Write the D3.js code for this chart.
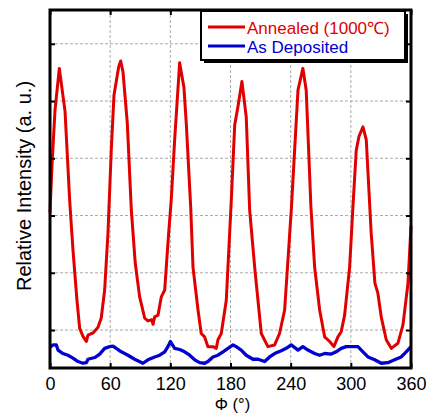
<!DOCTYPE html>
<html>
<head>
<meta charset="utf-8">
<script src="https://cdn.jsdelivr.net/npm/d3@7"></script>
<style>
  body { margin: 0; background: #fff; }
  text { font-family: "Liberation Sans", Arial, Helvetica, sans-serif; }
</style>
</head>
<body>
<script>
// phi (deg) vs relative intensity (a. u.)

var xTicks = [0, 60, 120, 180, 240, 300, 360];
var yGrid = [1, 2, 3, 4, 5, 6];

var annealed = [
  [0,3.05],[2,3.88],[5,4.84],[9.3,5.57],[15,4.82],[19.6,3.27],[22.9,2.40],[26.9,1.52],
  [29.6,1.03],[32.9,0.89],[36.2,0.80],[37.9,0.91],[42.9,0.95],[47.9,1.05],[51.1,1.21],
  [54.5,1.70],[57.8,2.69],[61.1,4.14],[63.8,5.10],[68.5,5.60],[70.5,5.70],[72.8,5.51],
  [77.1,4.61],[81.1,3.10],[85.0,2.17],[89.4,1.58],[94.4,1.21],[97.7,1.16],[101.5,1.18],
  [102.7,1.10],[104.4,1.23],[107.7,1.26],[111.0,1.58],[114.4,1.70],[118.3,2.69],[120.9,3.27],
  [124.3,4.32],[129.3,5.67],[133.6,5.23],[135.9,4.61],[140.3,3.15],[142.6,2.10],[147.6,1.35],
  [150.8,0.94],[154.2,0.88],[157.5,0.71],[162.5,0.71],[165.8,0.68],[167.5,0.83],[170.8,0.94],
  [175.8,1.52],[180.8,3.27],[184.2,4.58],[187.4,4.90],[191.4,5.34],[195.7,4.72],[199.1,3.10],
  [204.1,2.10],[210.7,0.94],[217.3,0.71],[224.0,0.74],[228.9,0.94],[234.0,1.35],[240.8,3.15],
  [247.3,5.19],[252.2,5.57],[255.5,5.19],[260.2,3.15],[263.9,2.10],[268.9,1.35],[273.9,0.88],
  [278.9,0.80],[283.1,0.71],[287.1,0.88],[290.4,0.97],[293.8,1.26],[298.8,2.10],[302.1,3.15],
  [305.4,4.14],[308.1,4.38],[312.1,4.55],[315.4,4.32],[320.3,2.69],[324.0,1.82],[326.9,1.65],
  [330.3,1.23],[335.3,0.83],[340.3,0.68],[347.0,0.77],[352.0,1.09],[357.0,1.82],[360,2.82]
];

var depositedPhi = [0,3.3,6.3,8,13,17.9,22.9,27.9,32.9,36.2,37.9,44.6,49.6,54.5,59.5,62.8,66.1,
  71.1,77.8,84.4,92.7,97.7,104.4,109.4,114.4,117.6,120.1,124.3,129.3,134.3,139.3,144.3,149.3,
  154.2,157.5,162.5,167.5,172.5,177.5,182.5,185.7,190.7,195.7,202.4,207.4,214.1,219.0,224.0,
  230.6,235.6,240.6,247.3,252.2,257.2,263.9,268.9,273.9,280.5,285.4,290.4,295.4,302.1,307.1,
  312.1,317.1,323.8,330.3,337.0,343.6,350.3,355.2,360];
var depositedI = [0.70,0.74,0.74,0.65,0.59,0.56,0.51,0.45,0.42,0.43,0.49,0.52,0.58,0.68,0.71,
  0.72,0.68,0.62,0.56,0.49,0.42,0.48,0.53,0.56,0.62,0.71,0.80,0.68,0.66,0.62,0.56,0.48,0.43,
  0.42,0.45,0.53,0.56,0.62,0.68,0.74,0.71,0.65,0.56,0.49,0.49,0.45,0.53,0.59,0.64,0.68,0.74,
  0.65,0.71,0.65,0.59,0.56,0.59,0.58,0.62,0.68,0.71,0.71,0.71,0.62,0.53,0.48,0.42,0.43,0.48,
  0.53,0.62,0.71];

var W = 430, H = 413;
// plot box (window.top is read-only, so no "top" here)
var pL = 50, pR = 411, pT = 10, pB = 368;

var svg = d3.select('body').append('svg')
            .attr('width', W)
            .attr('height', H)
            .style('background-color', '#fff');

var x = d3.scaleLinear().domain([0, 360]).range([pL, pR]);
var y = d3.scaleLinear().domain([0.337, 6.59]).range([pB, pT]);

// grid
svg.append('g').selectAll('line')
  .data(xTicks.slice(1, -1)).enter().append('line')
  .attr('x1', function (d) { return x(d); }).attr('x2', function (d) { return x(d); })
  .attr('y1', pT).attr('y2', pB)
  .attr('stroke', '#aaa').attr('stroke-width', 1).attr('stroke-dasharray', '3,2');
svg.append('g').selectAll('line')
  .data(yGrid).enter().append('line')
  .attr('x1', pL).attr('x2', pR)
  .attr('y1', function (d) { return y(d); }).attr('y2', function (d) { return y(d); })
  .attr('stroke', '#aaa').attr('stroke-width', 1).attr('stroke-dasharray', '3,2');

// data
var line = d3.line()
  .x(function (d) { return x(d[0]); })
  .y(function (d) { return y(d[1]); });

var deposited = depositedPhi.map(function (p, i) { return [p, depositedI[i]]; });

svg.append('path').datum(deposited)
  .attr('d', line).attr('fill', 'none')
  .attr('stroke', '#0000d0').attr('stroke-width', 3.3).attr('stroke-linejoin', 'round');
svg.append('path').datum(annealed)
  .attr('d', line).attr('fill', 'none')
  .attr('stroke', '#e00000').attr('stroke-width', 3).attr('stroke-linejoin', 'round');

// axes (ticks point inward)
var bottomAxis = svg.append('g').attr('transform', 'translate(0,' + pB + ')')
  .call(d3.axisBottom(x).tickValues(xTicks).tickSizeInner(-5).tickSizeOuter(0).tickPadding(9));
var topAxis = svg.append('g').attr('transform', 'translate(0,' + pT + ')')
  .call(d3.axisTop(x).tickValues(xTicks).tickSizeInner(-5).tickSizeOuter(0).tickFormat(''));
var leftAxis = svg.append('g').attr('transform', 'translate(' + pL + ',0)')
  .call(d3.axisLeft(y).tickValues(yGrid).tickSizeInner(-5).tickSizeOuter(0).tickFormat(''));
var rightAxis = svg.append('g').attr('transform', 'translate(' + pR + ',0)')
  .call(d3.axisRight(y).tickValues(yGrid).tickSizeInner(-5).tickSizeOuter(0).tickFormat(''));

[bottomAxis, topAxis, leftAxis, rightAxis].forEach(function (a) {
  a.select('.domain').remove();
  a.selectAll('.tick line').attr('stroke', '#000').attr('stroke-width', 2);
});
bottomAxis.selectAll('text')
  .attr('fill', '#000').style('font-size', '18px')
  .style('font-family', '"Liberation Sans", Arial, Helvetica, sans-serif');

// frame
svg.append('rect')
  .attr('x', pL).attr('y', pT)
  .attr('width', pR - pL).attr('height', pB - pT)
  .attr('fill', 'none').attr('stroke', '#000').attr('stroke-width', 3);

// axis titles
svg.append('text')
  .attr('x', (pL + pR) / 2 + 2).attr('y', 409.5)
  .attr('text-anchor', 'middle').style('font-size', '16.5px')
  .text('Φ (°)');
svg.append('text')
  .attr('transform', 'translate(31,186) rotate(-90)')
  .attr('text-anchor', 'middle').style('font-size', '20px')
  .text('Relative Intensity (a. u.)');

// legend
var lg = svg.append('g');
lg.append('rect').attr('x', 204).attr('y', 14).attr('width', 204).attr('height', 49).attr('fill', '#000');
lg.append('rect').attr('x', 201).attr('y', 11).attr('width', 204).attr('height', 49)
  .attr('fill', '#fff').attr('stroke', '#000').attr('stroke-width', 2);

var legendItems = [
  { label: 'Annealed (1000℃)', color: '#e00000', y: 27 },
  { label: 'As Deposited', color: '#0000d0', y: 46 }
];
legendItems.forEach(function (d) {
  lg.append('line').attr('x1', 208).attr('x2', 245).attr('y1', d.y).attr('y2', d.y)
    .attr('stroke', d.color).attr('stroke-width', 3);
  lg.append('text').attr('x', 247).attr('y', d.y + 6.5)
    .attr('fill', d.color).style('font-size', '17px').text(d.label);
});
</script>
</body>
</html>
